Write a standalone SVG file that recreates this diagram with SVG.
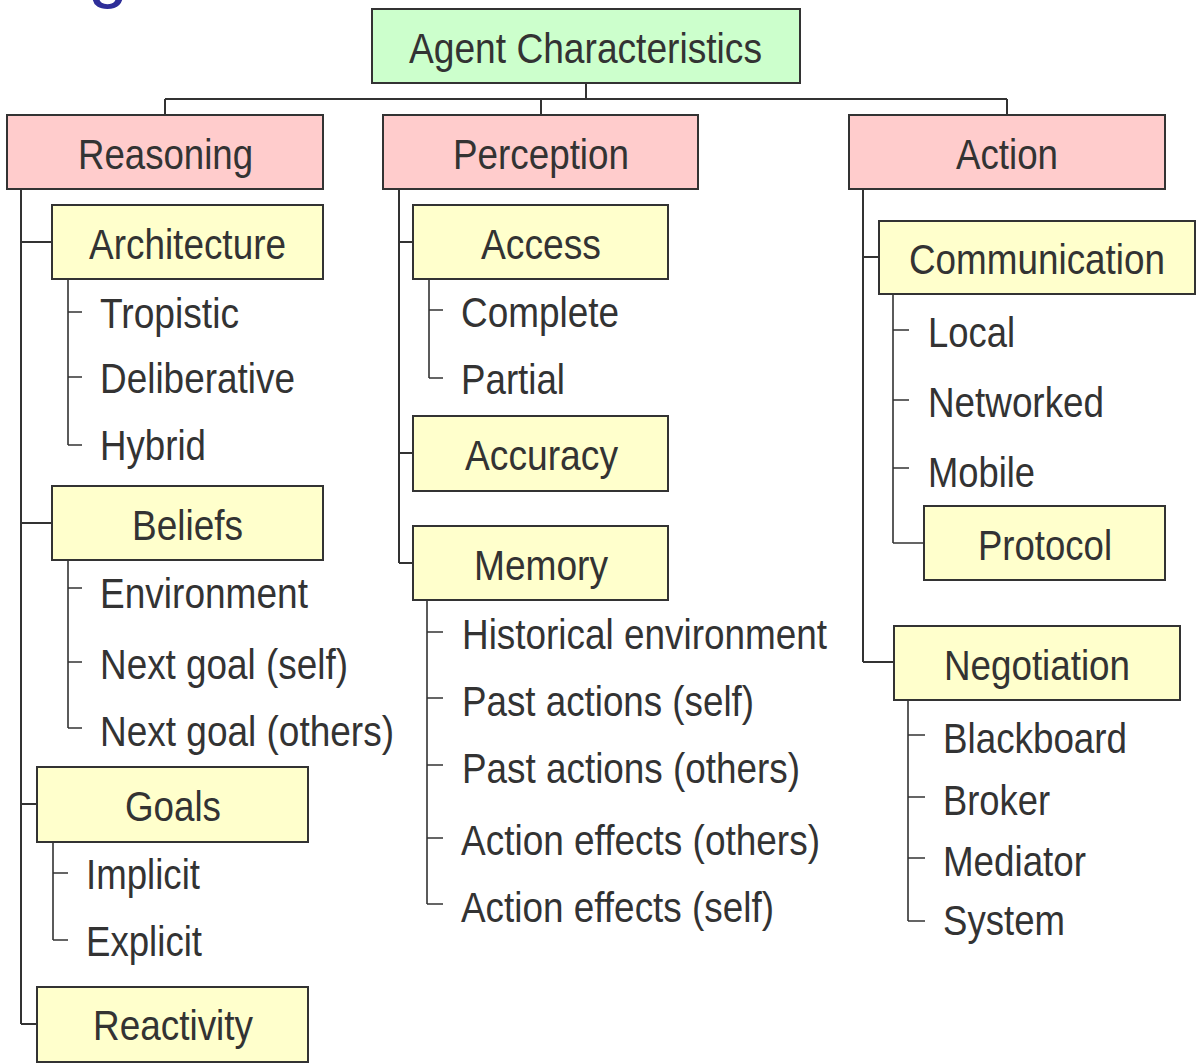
<svg xmlns="http://www.w3.org/2000/svg" width="1197" height="1063" viewBox="0 0 1197 1063">
<style>
text{font-family:"Liberation Sans",Arial,sans-serif;fill:#333;font-size:43px}
.box{stroke:#333;stroke-width:2}
.root{fill:#ccffcc}
.l1{fill:#ffcccc}
.l2{fill:#ffffcc}
.conn path{fill:none;stroke:#333;stroke-width:2}
.thin path{stroke-width:1.6}
</style>
<rect width="1197" height="1063" fill="#fff"/>
<text x="88" y="-6" style="fill:#2e2e99;font-size:72px">g</text>
<g id="connectors" class="conn">
<path d="M586 83V99M165 99H1007M165 99V115M541 99V115M1007 99V115"/>
<path d="M21 189V1024M21 242H52M21 523H52M21 804H37M21 1024H37"/>
<path d="M399 189V563M399 242H413M399 453H413M399 563H413"/>
<path d="M863 189V662M863 257H879M863 662H894"/>
<g class="thin">
<path d="M68 279V445M68 312H82M68 377H82M68 445H82"/>
<path d="M68 560V728M68 588H82M68 662H82M68 728H82"/>
<path d="M53 842V940M53 873H68M53 940H68"/>
<path d="M429 279V378M429 310H443M429 378H443"/>
<path d="M427 600V904M427 632H443M427 698H443M427 765H443M427 838H443M427 904H443"/>
<path d="M893 294V543M893 330H909M893 400H909M893 468H909M893 543H924"/>
<path d="M908 700V921M908 735H925M908 797H925M908 858H925M908 921H925"/>
</g>
</g>
<g id="n-root"><rect class="box root" x="372" y="9" width="428" height="74"/><text x="409" y="63" textLength="353" lengthAdjust="spacingAndGlyphs">Agent Characteristics</text></g>
<g id="n-reasoning"><rect class="box l1" x="7" y="115" width="316" height="74"/><text x="78" y="169" textLength="175" lengthAdjust="spacingAndGlyphs">Reasoning</text></g>
<g id="n-perception"><rect class="box l1" x="383" y="115" width="315" height="74"/><text x="453" y="169" textLength="176" lengthAdjust="spacingAndGlyphs">Perception</text></g>
<g id="n-action"><rect class="box l1" x="849" y="115" width="316" height="74"/><text x="956" y="169" textLength="102" lengthAdjust="spacingAndGlyphs">Action</text></g>
<g id="n-architecture"><rect class="box l2" x="52" y="205" width="271" height="74"/><text x="89" y="259" textLength="197" lengthAdjust="spacingAndGlyphs">Architecture</text></g>
<g id="n-arch-items"><text x="100" y="328" textLength="139" lengthAdjust="spacingAndGlyphs">Tropistic</text><text x="100" y="393" textLength="195" lengthAdjust="spacingAndGlyphs">Deliberative</text><text x="100" y="460" textLength="106" lengthAdjust="spacingAndGlyphs">Hybrid</text></g>
<g id="n-beliefs"><rect class="box l2" x="52" y="486" width="271" height="74"/><text x="132" y="540" textLength="111" lengthAdjust="spacingAndGlyphs">Beliefs</text></g>
<g id="n-beliefs-items"><text x="100" y="608" textLength="208" lengthAdjust="spacingAndGlyphs">Environment</text><text x="100" y="679" textLength="248" lengthAdjust="spacingAndGlyphs">Next goal (self)</text><text x="100" y="746" textLength="294" lengthAdjust="spacingAndGlyphs">Next goal (others)</text></g>
<g id="n-goals"><rect class="box l2" x="37" y="767" width="271" height="75"/><text x="125" y="821" textLength="96" lengthAdjust="spacingAndGlyphs">Goals</text></g>
<g id="n-goals-items"><text x="86" y="889" textLength="114" lengthAdjust="spacingAndGlyphs">Implicit</text><text x="86" y="956" textLength="116" lengthAdjust="spacingAndGlyphs">Explicit</text></g>
<g id="n-reactivity"><rect class="box l2" x="37" y="987" width="271" height="75"/><text x="93" y="1040" textLength="160" lengthAdjust="spacingAndGlyphs">Reactivity</text></g>
<g id="n-access"><rect class="box l2" x="413" y="205" width="255" height="74"/><text x="481" y="259" textLength="120" lengthAdjust="spacingAndGlyphs">Access</text></g>
<g id="n-access-items"><text x="461" y="327" textLength="158" lengthAdjust="spacingAndGlyphs">Complete</text><text x="461" y="394" textLength="104" lengthAdjust="spacingAndGlyphs">Partial</text></g>
<g id="n-accuracy"><rect class="box l2" x="413" y="416" width="255" height="75"/><text x="465" y="470" textLength="153" lengthAdjust="spacingAndGlyphs">Accuracy</text></g>
<g id="n-memory"><rect class="box l2" x="413" y="526" width="255" height="74"/><text x="474" y="580" textLength="134" lengthAdjust="spacingAndGlyphs">Memory</text></g>
<g id="n-memory-items"><text x="462" y="649" textLength="365" lengthAdjust="spacingAndGlyphs">Historical environment</text><text x="462" y="716" textLength="292" lengthAdjust="spacingAndGlyphs">Past actions (self)</text><text x="462" y="783" textLength="338" lengthAdjust="spacingAndGlyphs">Past actions (others)</text><text x="461" y="855" textLength="359" lengthAdjust="spacingAndGlyphs">Action effects (others)</text><text x="461" y="922" textLength="313" lengthAdjust="spacingAndGlyphs">Action effects (self)</text></g>
<g id="n-communication"><rect class="box l2" x="879" y="221" width="316" height="73"/><text transform="translate(909 274) scale(0.857 1)" x="0" y="0">Communication</text></g>
<g id="n-comm-items"><text x="928" y="347" textLength="87" lengthAdjust="spacingAndGlyphs">Local</text><text x="928" y="417" textLength="176" lengthAdjust="spacingAndGlyphs">Networked</text><text x="928" y="487" textLength="107" lengthAdjust="spacingAndGlyphs">Mobile</text></g>
<g id="n-protocol"><rect class="box l2" x="924" y="506" width="241" height="74"/><text x="978" y="560" textLength="134" lengthAdjust="spacingAndGlyphs">Protocol</text></g>
<g id="n-negotiation"><rect class="box l2" x="894" y="626" width="286" height="74"/><text x="944" y="680" textLength="186" lengthAdjust="spacingAndGlyphs">Negotiation</text></g>
<g id="n-neg-items"><text x="943" y="753" textLength="184" lengthAdjust="spacingAndGlyphs">Blackboard</text><text x="943" y="815" textLength="107" lengthAdjust="spacingAndGlyphs">Broker</text><text x="943" y="876" textLength="143" lengthAdjust="spacingAndGlyphs">Mediator</text><text x="943" y="935" textLength="122" lengthAdjust="spacingAndGlyphs">System</text></g>
</svg>
